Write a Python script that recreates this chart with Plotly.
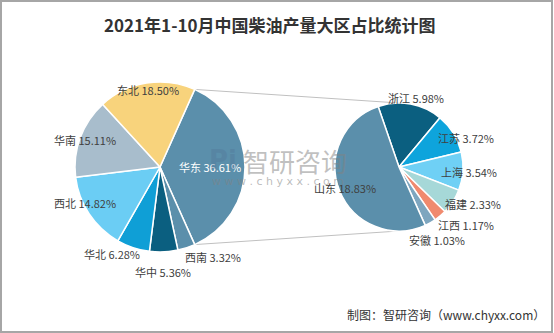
import math
import plotly.graph_objects as go

W, H = 554, 333

# ---------------- data ----------------
title_text = "2021年1-10月中国柴油产量大区占比统计图"
source_text = "制图：智研咨询（www.chyxx.com）"

regions = ["华东", "西南", "华中", "华北", "西北", "华南", "东北"]
region_share = [36.61, 3.32, 5.36, 6.28, 14.82, 15.11, 18.50]

provinces = ["浙江", "江苏", "上海", "福建", "江西", "安徽", "山东"]
province_share = [5.98, 3.72, 3.54, 2.33, 1.17, 1.03, 18.83]

# ---------------- style ----------------
left_colors = ["#5b8fab", "#5b8fab", "#0b5f80", "#0f9fd6", "#6bcdf4", "#a8bdcc", "#f8d37c"]
right_colors = ["#0b5f80", "#0ea4dc", "#6fd0f5", "#a6d8d8", "#f08a6e", "#7ea6bf", "#5b8fab"]

L_CX, L_CY, L_R = 160, 167, 85
R_CX, R_CY, R_R = 399, 167, 64
R_ROT = -19

# label offsets (pixels) from pie centre
left_label_off = [(50, 0), (53, 90), (3, 105), (-48, 87), (-75, 36), (-75, -27), (-12, -77)]
right_label_off = [(17, -69), (67, -29), (70, 5), (74, 37), (67, 58), (38, 73), (-54, 21)]

FONT = "Noto Sans CJK SC, Microsoft YaHei, sans-serif"


def px(x):
    return x / W


def py(y):
    return 1 - y / H


def domain(cx, cy, r):
    return dict(x=[px(cx - r), px(cx + r)], y=[py(cy + r), py(cy - r)])


def note(x, y, text, font, xanchor="center"):
    return dict(x=px(x), y=py(y), xref="paper", yref="paper", text=text,
                showarrow=False, xanchor=xanchor, yanchor="middle", font=font)


left_rot = 90 - region_share[0] * 1.8

fig = go.Figure()
fig.add_trace(go.Pie(
    labels=regions, values=region_share, sort=False, direction="clockwise",
    rotation=left_rot, domain=domain(L_CX, L_CY, L_R), textinfo="none",
    marker=dict(colors=left_colors, line=dict(color="white", width=1.5)),
    showlegend=False, hoverinfo="label+value",
))
fig.add_trace(go.Pie(
    labels=provinces, values=province_share, sort=False, direction="clockwise",
    rotation=R_ROT, domain=domain(R_CX, R_CY, R_R), textinfo="none",
    marker=dict(colors=right_colors, line=dict(color="white", width=1.5)),
    showlegend=False, hoverinfo="label+value",
))

annotations = []
for i, (name, v) in enumerate(zip(regions, region_share)):
    dx, dy = left_label_off[i]
    annotations.append(note(L_CX + dx, L_CY + dy, f"{name} {v:.2f}%",
                            dict(family=FONT, size=11, color="white" if i == 0 else "#404040")))
for i, (name, v) in enumerate(zip(provinces, province_share)):
    dx, dy = right_label_off[i]
    annotations.append(note(R_CX + dx, R_CY + dy, f"{name} {v:.2f}%",
                            dict(family=FONT, size=11, color="#404040")))

# title & source
annotations.append(note(270, 25, f"<b>{title_text}</b>",
                        dict(family="Noto Sans CJK SC, serif", size=17, color="#333333")))
annotations.append(note(547, 314, source_text,
                        dict(family=FONT, size=12, color="#333333"), xanchor="right"))

# watermark
annotations.append(note(223, 160, "<b>Pi</b>",
                        dict(family="DejaVu Sans", size=26, color="rgba(80,115,150,0.35)")))
annotations.append(note(295, 160, "智研咨询",
                        dict(family=FONT, size=26, color="rgba(130,130,130,0.5)")))
annotations.append(note(278, 181, "w w w . c h y x x . c o m",
                        dict(family="DejaVu Sans", size=11, color="rgba(130,130,130,0.55)")))

# connector lines derived from the 华东 slice edges
shapes = []
t1 = math.radians(left_rot)
t2 = math.radians(left_rot + region_share[0] * 3.6)
for t, ty in ((t1, R_CY - R_R), (t2, R_CY + R_R)):
    x0 = L_CX + L_R * math.sin(t)
    y0 = L_CY - L_R * math.cos(t)
    shapes.append(dict(type="line", xref="paper", yref="paper", layer="below",
                       x0=px(x0), y0=py(y0), x1=px(R_CX), y1=py(ty),
                       line=dict(color="#c0c0c0", width=1)))
# outer frame
shapes.append(dict(type="rect", xref="paper", yref="paper", x0=px(1), y0=py(332), x1=px(552), y1=py(1),
                   line=dict(color="#a6a6a6", width=2)))

fig.update_layout(
    width=W, height=H, margin=dict(l=0, r=0, t=0, b=0),
    paper_bgcolor="white", plot_bgcolor="white",
    annotations=annotations, shapes=shapes,
)

fig.write_html("out.html")
